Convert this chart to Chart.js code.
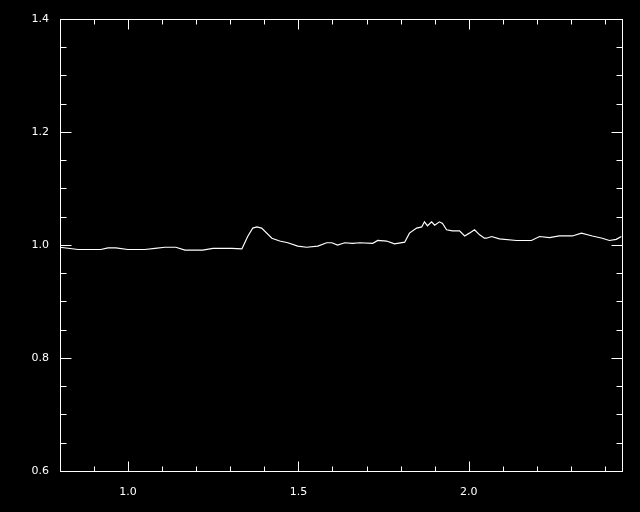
<!DOCTYPE html>
<html>
<head>
<meta charset="utf-8">
<script src="https://cdn.jsdelivr.net/npm/chart.js@4"></script>
<style>
  html, body { margin: 0; padding: 0; background: #000; }
  canvas { display: block; }
</style>
</head>
<body>
<canvas id="c" width="640" height="512"></canvas>
<script>
// --- data ---
const xVals = [0.800, 0.853, 0.920, 0.941, 0.964, 0.999, 1.049, 1.079, 1.108, 1.140,
  1.167, 1.219, 1.249, 1.304, 1.334, 1.351, 1.366, 1.378, 1.392, 1.422,
  1.445, 1.469, 1.498, 1.524, 1.557, 1.583, 1.598, 1.615, 1.636, 1.659,
  1.680, 1.718, 1.733, 1.759, 1.782, 1.812, 1.826, 1.847, 1.862, 1.870,
  1.879, 1.891, 1.900, 1.914, 1.923, 1.935, 1.952, 1.973, 1.988, 2.002,
  2.017, 2.032, 2.046, 2.052, 2.067, 2.090, 2.140, 2.184, 2.208, 2.237,
  2.266, 2.304, 2.331, 2.363, 2.392, 2.413, 2.433, 2.448];
const yVals = [0.996, 0.992, 0.992, 0.995, 0.995, 0.992, 0.992, 0.994, 0.996, 0.996,
  0.991, 0.991, 0.994, 0.994, 0.993, 1.015, 1.030, 1.032, 1.030, 1.012,
  1.007, 1.004, 0.998, 0.996, 0.998, 1.004, 1.004, 1.000, 1.004, 1.003,
  1.004, 1.003, 1.008, 1.007, 1.002, 1.005, 1.021, 1.030, 1.032, 1.041,
  1.034, 1.041, 1.035, 1.041, 1.038, 1.027, 1.025, 1.025, 1.016, 1.021,
  1.027, 1.018, 1.012, 1.012, 1.015, 1.011, 1.008, 1.008, 1.015, 1.013,
  1.016, 1.016, 1.021, 1.016, 1.012, 1.008, 1.010, 1.015];

const xTicks = [1.0, 1.5, 2.0];
const yTicks = [0.6, 0.8, 1.0, 1.2, 1.4];
const xMinor = 0.1, yMinor = 0.05;
const X_MIN = 0.8, X_MAX = 2.45, Y_MIN = 0.6, Y_MAX = 1.4;

// 黒背景
const bgPlugin = {
  id: 'bg',
  beforeDraw(chart) {
    const ctx = chart.ctx;
    ctx.save();
    ctx.fillStyle = '#000';
    ctx.fillRect(0, 0, chart.width, chart.height);
    ctx.restore();
  }
};

// 枠と上下左右の目盛り (IDL 風)
const framePlugin = {
  id: 'frame',
  afterDraw(chart) {
    const { ctx, chartArea: a, scales } = chart;
    const L = Math.round(a.left) + 0.5, R = Math.round(a.right) + 0.5;
    const T = Math.round(a.top) + 0.5, B = Math.round(a.bottom) + 0.5;
    ctx.save();
    ctx.strokeStyle = '#fff';
    ctx.lineWidth = 1;
    ctx.strokeRect(L, T, R - L, B - T);
    ctx.beginPath();
    // x ticks
    for (let i = Math.ceil(X_MIN / xMinor - 1e-6); i * xMinor <= X_MAX + 1e-9; i++) {
      const v = i * xMinor;
      const major = Math.abs(v / 0.5 - Math.round(v / 0.5)) < 1e-6;
      const len = major ? 10 : 5;
      const px = Math.round(scales.x.getPixelForValue(v)) + 0.5;
      ctx.moveTo(px, B); ctx.lineTo(px, B - len);
      ctx.moveTo(px, T); ctx.lineTo(px, T + len);
    }
    // y ticks
    for (let i = Math.ceil(Y_MIN / yMinor - 1e-6); i * yMinor <= Y_MAX + 1e-9; i++) {
      const v = i * yMinor;
      const major = Math.abs(v / 0.2 - Math.round(v / 0.2)) < 1e-6;
      const len = major ? 11 : 6;
      const py = Math.round(scales.y.getPixelForValue(v)) + 0.5;
      ctx.moveTo(L, py); ctx.lineTo(L + len, py);
      ctx.moveTo(R, py); ctx.lineTo(R - len, py);
    }
    ctx.stroke();
    ctx.restore();
  }
};

new Chart(document.getElementById('c'), {
  type: 'line',
  data: {
    datasets: [{
      data: xVals.map((x, i) => ({ x, y: yVals[i] })),
      borderColor: '#fff',
      borderWidth: 1.2,
      pointRadius: 0,
      tension: 0,
      fill: false
    }]
  },
  options: {
    responsive: false,
    animation: false,
    layout: { padding: { top: 19, right: 18, left: 0, bottom: 0 } },
    plugins: { legend: { display: false }, tooltip: { enabled: false } },
    scales: {
      x: {
        type: 'linear',
        min: X_MIN, max: X_MAX,
        grid: { display: false },
        border: { display: false },
        afterBuildTicks: s => { s.ticks = xTicks.map(v => ({ value: v })); },
        afterFit: s => { s.height = 41; },
        ticks: {
          color: '#fff',
          padding: 7,
          maxRotation: 0,
          font: { family: 'DejaVu Sans', size: 11 },
          callback: v => Number(v).toFixed(1)
        }
      },
      y: {
        type: 'linear',
        min: Y_MIN, max: Y_MAX,
        grid: { display: false },
        border: { display: false },
        afterBuildTicks: s => { s.ticks = yTicks.map(v => ({ value: v })); },
        afterFit: s => { s.width = 60; },
        ticks: {
          color: '#fff',
          padding: 3,
          font: { family: 'DejaVu Sans', size: 11 },
          callback: v => Number(v).toFixed(1)
        }
      }
    }
  },
  plugins: [bgPlugin, framePlugin]
});
</script>
</body>
</html>
